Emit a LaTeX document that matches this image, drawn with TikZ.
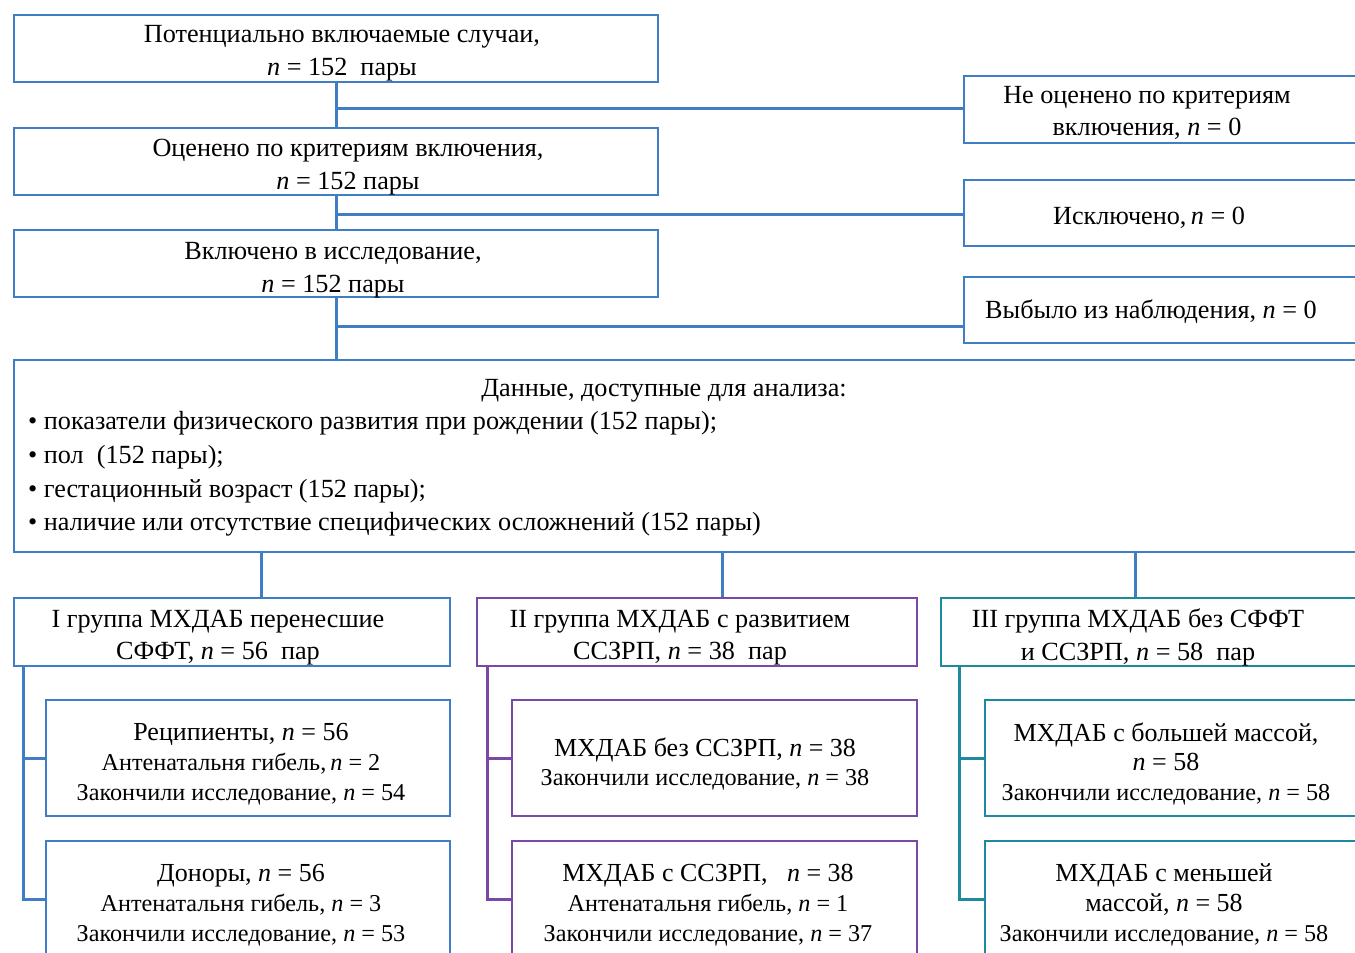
\documentclass[tikz,border=0pt]{standalone}
\usepackage{fontspec}
\setmainfont{Liberation Serif}
\definecolor{cblue}{HTML}{3F7DC4}
\definecolor{cpurple}{HTML}{7A48A6}
\definecolor{cteal}{HTML}{1E8AA0}
\newcommand{\nn}{\textit{n}}
\newcommand{\bigln}{\fontsize{26}{30}\selectfont}
\begin{document}
\begin{tikzpicture}[x=1pt,y=-1pt,
  box/.style={draw=#1, line width=2pt, inner sep=0pt},
  conn/.style={draw=#1, line width=3pt},
  txt/.style={align=center, inner sep=0pt, font=\fontsize{26.2}{32.5}\selectfont},
  sub/.style={align=center, inner sep=0pt, font=\fontsize{24.2}{29.8}\selectfont}]
\useasboundingbox (0,0) rectangle (1355,953);
\clip (0,0) rectangle (1355,953);
% main boxes
\node[box=cblue, minimum width=644pt, minimum height=67pt] (A) at (336,48.5) {};
\node[box=cblue, minimum width=644pt, minimum height=67pt] (B) at (336,161.5) {};
\node[box=cblue, minimum width=644pt, minimum height=67pt] (C) at (336,263.5) {};
\node[box=cblue, minimum width=436pt, minimum height=67pt] (R1) at (1182,109.5) {};
\node[box=cblue, minimum width=436pt, minimum height=66pt] (R2) at (1182,213) {};
\node[box=cblue, minimum width=436pt, minimum height=66pt] (R3) at (1182,310) {};
\node[box=cblue, minimum width=1386pt, minimum height=192pt] (D) at (707,456) {};
\node[box=cblue, minimum width=436pt, minimum height=68pt] (G1) at (232,632) {};
\node[box=cpurple, minimum width=440pt, minimum height=68pt] (G2) at (697,632) {};
\node[box=cteal, minimum width=459pt, minimum height=68pt] (G3) at (1170.5,632) {};
\node[box=cblue, minimum width=404pt, minimum height=116pt] (S11) at (248,758) {};
\node[box=cblue, minimum width=404pt, minimum height=116pt] (S12) at (248,899) {};
\node[box=cpurple, minimum width=405pt, minimum height=116pt] (S21) at (714.5,758) {};
\node[box=cpurple, minimum width=405pt, minimum height=116pt] (S22) at (714.5,899) {};
\node[box=cteal, minimum width=415pt, minimum height=116pt] (S31) at (1192.5,758) {};
\node[box=cteal, minimum width=415pt, minimum height=116pt] (S32) at (1192.5,899) {};
% texts
\node[txt] (tA) at (342,53) {Потенциально включаемые случаи,\\\nn{} = 152\ \ пары};
\node[txt] (tB) at (348,167) {Оценено по критериям включения,\\\nn{} = 152 пары};
\node[txt] (tC) at (333,270) {Включено в исследование,\\\nn{} = 152 пары};
\node[txt] (tR1) at (1147,113) {Не оценено по критериям\\включения, \nn{} = 0};
\node[txt] (tR2) at (1149,217.5) {Исключено,\,\nn{} = 0};
\node[txt] (tR3) at (1151,311.5) {Выбыло из наблюдения, \nn{} = 0};
\node[txt] (tD) at (664,391) {Данные, доступные для анализа:};
\node[txt, align=left, anchor=west, font=\fontsize{26.2}{33.7}\selectfont] (tL) at (28,474) {%
• показатели физического развития при рождении (152 пары);\\
• пол\ \ (152 пары);\\
• гестационный возраст (152 пары);\\
• наличие или отсутствие специфических осложнений (152 пары)};
\node[txt] (tG1) at (218,637.5) {I группа МХДАБ перенесшие\\СФФТ, \nn{} = 56\ \ пар};
\node[txt] (tG2) at (680,637.5) {II группа МХДАБ с развитием\\ССЗРП, \nn{} = 38\ \ пар};
\node[txt] (tG3) at (1138,637.5) {III группа МХДАБ без СФФТ\\и ССЗРП, \nn{} = 58\ \ пар};
\node[sub] (tS11) at (241,764) {{\bigln Реципиенты, \nn{} = 56}\\Антенатальня гибель,\,\nn{} = 2\\Закончили исследование,\ \nn{} = 54};
\node[sub] (tS12) at (241,905) {{\bigln Доноры,\ \nn{} = 56}\\Антенатальня гибель, \nn{} = 3\\Закончили исследование,\ \nn{} = 53};
\node[sub] (tS21) at (705,764) {{\bigln МХДАБ без ССЗРП, \nn{} = 38}\\Закончили исследование, \nn{} = 38};
\node[sub] (tS22) at (708,905) {{\bigln МХДАБ с ССЗРП,\ \ \ \nn{} = 38}\\Антенатальня гибель, \nn{} = 1\\Закончили исследование,\ \nn{} = 37};
\node[sub] (tS31) at (1166,764) {{\bigln МХДАБ с большей массой,}\\{\bigln \nn{} = 58}\\Закончили исследование, \nn{} = 58};
\node[sub] (tS32) at (1164,905) {{\bigln МХДАБ с меньшей}\\{\bigln массой, \nn{} = 58}\\Закончили исследование, \nn{} = 58};
% connectors
\draw[conn=cblue] (A.south) -- (B.north);
\draw[conn=cblue] (B.south) -- (C.north);
\draw[conn=cblue] (C.south) -- (D.north -| C.south);
\coordinate (j1) at (336,108);
\coordinate (j2) at (336,214);
\coordinate (j3) at (336,326);
\draw[conn=cblue] (j1) -- (j1 -| R1.west);
\draw[conn=cblue] (j2) -- (j2 -| R2.west);
\draw[conn=cblue] (j3) -- (j3 -| R3.west);
\coordinate (d1) at (261,552);
\coordinate (d2) at (722,552);
\coordinate (d3) at (1135,552);
\draw[conn=cblue] (d1) -- (d1 |- G1.north);
\draw[conn=cblue] (d2) -- (d2 |- G2.north);
\draw[conn=cblue] (d3) -- (d3 |- G3.north);
\coordinate (g1) at (23,666);
\coordinate (g2) at (487,666);
\coordinate (g3) at (959,666);
\draw[conn=cblue] (g1) -- (g1 |- S12.west) -- (S12.west);
\draw[conn=cblue] (g1 |- S11.west) -- (S11.west);
\draw[conn=cpurple] (g2) -- (g2 |- S22.west) -- (S22.west);
\draw[conn=cpurple] (g2 |- S21.west) -- (S21.west);
\draw[conn=cteal] (g3) -- (g3 |- S32.west) -- (S32.west);
\draw[conn=cteal] (g3 |- S31.west) -- (S31.west);
\end{tikzpicture}
\end{document}
